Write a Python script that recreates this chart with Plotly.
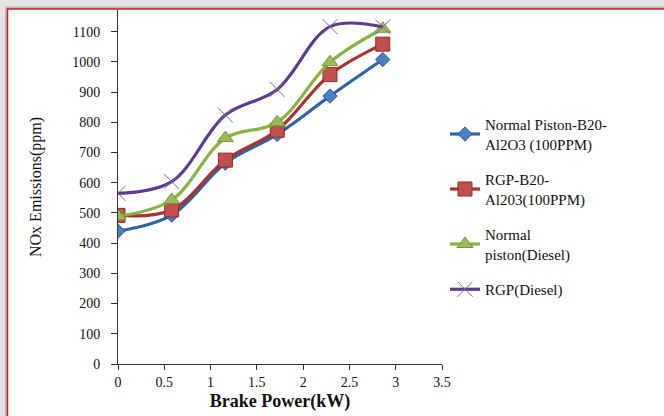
import plotly.graph_objects as go

power = [0, 0.58, 1.16, 1.72, 2.29, 2.86]
names = ["Normal Piston-B20-<br>Al2O3 (100PPM)", "RGP-B20-<br>Al203(100PPM)",
         "Normal<br>piston(Diesel)", "RGP(Diesel)"]
np_b20 = [440, 493, 665, 760, 887, 1008]
rgp_b20 = [492, 510, 675, 774, 958, 1059]
np_diesel = [489, 543, 748, 800, 999, 1110]
rgp_diesel = [565, 604, 824, 909, 1117, 1116]
x_ticks = [0, 0.5, 1, 1.5, 2, 2.5, 3, 3.5]
y_ticks = list(range(0, 1101, 100))

series = [np_b20, rgp_b20, np_diesel, rgp_diesel]
line_colors = ["#2F65A8", "#A8332F", "#8AB344", "#5E3B8E"]
marker_fill = ["#4A7FC0", "#C0504D", "#9BBB59", "#8064A2"]
marker_line = ["#2A5A98", "#8E2E2B", "#76963A", "#6B4F91"]
symbols = ["diamond", "square", "triangle-up", "x-thin-open"]
sizes = [11, 14, 14, 15]

fig = go.Figure()
for i, vals in enumerate(series):
    mk = dict(symbol=symbols[i], size=sizes[i], color=marker_fill[i],
              line=dict(color=marker_line[i], width=1))
    fig.add_trace(go.Scatter(
        x=power, y=vals, name=names[i], mode="lines+markers",
        line=dict(color=line_colors[i], width=3.2, shape="spline", smoothing=1.0),
        marker=mk, legendgroup=f"g{i}"))

L, R, T, B = 118, 222, 10, 52
W, H = 664 - L - R, 416 - T - B

def px(xp):
    return (xp - L) / W

def py(yp):
    return (416 - B - yp) / H

shapes = [
    dict(type="rect", xref="paper", yref="paper", layer="below",
         x0=px(5), x1=px(700), y0=py(6.5), y1=py(450),
         fillcolor="#b8b8b8", line=dict(width=0)),
    dict(type="rect", xref="paper", yref="paper", layer="below",
         x0=px(7.5), x1=px(700), y0=py(9), y1=py(450),
         fillcolor="white", line=dict(color="#E0141E", width=1.5)),
]

font_family = "Liberation Serif"
fig.update_layout(
    width=664, height=416,
    margin=dict(l=L, r=R, t=T, b=B),
    paper_bgcolor="#e4e4e4", plot_bgcolor="white",
    shapes=shapes,
    font=dict(family=font_family, color="#111111", size=13),
    showlegend=True,
    legend=dict(x=px(445), y=py(108), xanchor="left", yanchor="top",
                font=dict(family=font_family, size=15, color="#111111"),
                tracegroupgap=13, bgcolor="rgba(0,0,0,0)"),
    xaxis=dict(range=[0, 3.5], tickvals=x_ticks, ticktext=[f"{v:g}" for v in x_ticks],
               showgrid=False, zeroline=False, showline=True, linecolor="#333333",
               linewidth=1, ticks="outside", ticklen=5, tickcolor="#333333",
               tickfont=dict(family=font_family, size=14),
               title=dict(text="<b>Brake Power(kW)</b>", font=dict(family=font_family, size=18),
                          standoff=5)),
    yaxis=dict(range=[0, 1172], tickvals=y_ticks,
               showgrid=False, zeroline=False, showline=True, linecolor="#333333",
               linewidth=1, ticks="outside", ticklen=6, tickcolor="#333333",
               ticklabelstandoff=8,
               tickfont=dict(family=font_family, size=14),
               title=dict(text="NOx Emissions(ppm)", font=dict(family=font_family, size=16),
                          standoff=26)),
)

fig.write_html("out.html")
